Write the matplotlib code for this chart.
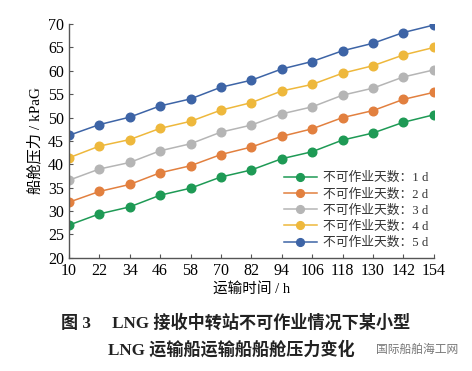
import matplotlib.pyplot as plt

# transport time (h) and tank pressure (kPaG) per number of non-operable days
hours = [10, 22, 34, 46, 58, 70, 82, 94, 106, 118, 130, 142, 154]
p_1d = [27.0, 29.4, 30.9, 33.4, 34.9, 37.3, 38.8, 41.2, 42.7, 45.2, 46.7, 49.0, 50.6]
p_2d = [31.9, 34.2, 35.7, 38.2, 39.7, 42.1, 43.7, 46.0, 47.6, 50.0, 51.5, 53.9, 55.4]
p_3d = [36.6, 39.0, 40.4, 42.9, 44.4, 46.9, 48.4, 50.8, 52.3, 54.8, 56.3, 58.7, 60.2]
p_4d = [41.4, 43.9, 45.3, 47.7, 49.2, 51.6, 53.2, 55.7, 57.1, 59.5, 61.1, 63.4, 65.0]
p_5d = [46.2, 48.5, 50.1, 52.5, 54.0, 56.5, 58.0, 60.4, 62.0, 64.3, 65.9, 68.2, 69.8]

labels = ["不可作业天数：1 d", "不可作业天数：2 d", "不可作业天数：3 d",
          "不可作业天数：4 d", "不可作业天数：5 d"]
colors = ["#1e9a55", "#e2803f", "#b5b5b5", "#eeb83c", "#3d64a6"]

plt.rcParams['font.family'] = ['Liberation Serif', 'Noto Sans CJK SC', 'DejaVu Sans']

fig = plt.figure(figsize=(4.72, 3.71), dpi=100)
ax = fig.add_axes([0.146, 0.305, 0.773, 0.63])

for vals, lab, c in zip([p_1d, p_2d, p_3d, p_4d, p_5d], labels, colors):
    ax.plot(hours, vals, color=c, lw=1.1, marker='o', ms=6.2, label=lab)

ax.set_xlim(10, 154)
ax.set_ylim(20, 70)
ax.set_xticks(hours)
ax.set_yticks(range(20, 71, 5))
ax.tick_params(direction='in', length=3, labelsize=11.5, color='#555555')
ax.spines['top'].set_visible(False)
ax.spines['right'].set_visible(False)
for s in ['left', 'bottom']:
    ax.spines[s].set_color('#555555')
    ax.spines[s].set_linewidth(1.0)

ax.set_ylabel("船舱压力 / kPaG", fontsize=11, labelpad=4)
ax.set_xlabel("运输时间 / h", fontsize=10.5, labelpad=2)

leg = ax.legend(loc='lower right', frameon=False, fontsize=9.2, handlelength=2.6,
                handletextpad=0.5, labelspacing=0.32, borderaxespad=0.0,
                bbox_to_anchor=(1.0, 0.015), markerscale=0.9)
for t in leg.get_texts():
    t.set_color('#333333')

fig.text(0.5, 0.13, "图 3     LNG 接收中转站不可作业情况下某小型", ha='center',
         va='center', fontsize=12.3, fontweight='bold', color='#222222')
fig.text(0.49, 0.057, "LNG 运输船运输船船舱压力变化", ha='center',
         va='center', fontsize=12.3, fontweight='bold', color='#222222')
fig.text(0.97, 0.057, "国际船舶海工网", ha='right', va='center',
         fontsize=8.5, color='#777777')

fig.savefig("out.png", dpi=100)
